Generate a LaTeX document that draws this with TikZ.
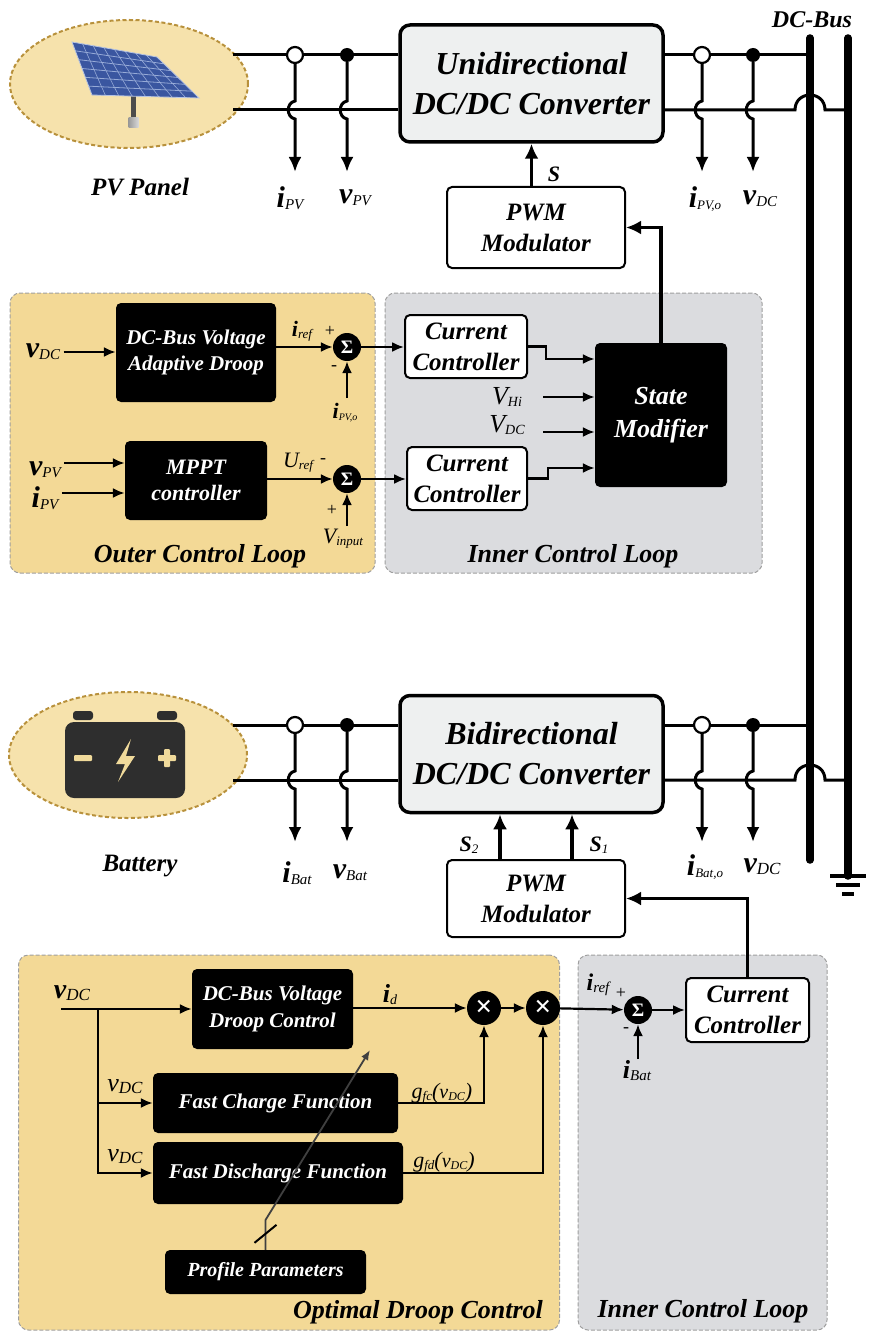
\documentclass[tikz,border=0pt]{standalone}
\usepackage{fontspec}
\setmainfont{Liberation Serif}
\usetikzlibrary{arrows.meta,shapes.geometric,calc}

\definecolor{tanfill}{RGB}{243,217,150}
\definecolor{grayfill}{RGB}{219,220,223}
\definecolor{ellfill}{RGB}{246,226,172}
\definecolor{elldash}{RGB}{184,145,60}
\definecolor{convfill}{RGB}{238,240,240}
\definecolor{panelblue}{RGB}{58,86,160}
\definecolor{panelgrid}{RGB}{150,170,215}
\definecolor{batdark}{RGB}{46,46,46}
\definecolor{battan}{RGB}{240,218,155}

\newcommand{\fsz}[2]{\fontsize{#1}{#2}\selectfont}
% bold italic variable with italic subscript
\newcommand{\vlab}[4]{{\fsz{#1}{#1}\bfseries\itshape #2}\raisebox{-2pt}{\fsz{#3}{#3}\itshape #4}}
% regular italic variable with italic subscript
\newcommand{\rlab}[4]{{\fsz{#1}{#1}\itshape #2}\raisebox{-2pt}{\fsz{#3}{#3}\itshape #4}}

\begin{document}
\begin{tikzpicture}[x=1pt,y=-1pt,
  loopbox/.style={draw=gray!75, dash pattern=on 4pt off 2pt, line width=1pt, rounded corners=10pt, inner sep=0pt},
  conv/.style={draw=black, fill=convfill, line width=3.5pt, rounded corners=10pt, align=center, inner sep=0pt,
    font=\bfseries\itshape\fsz{32}{40}},
  blk/.style={fill=black, text=white, rounded corners=5pt, align=center, inner sep=0pt, font=\bfseries\itshape},
  wbox/.style={draw=black, fill=white, line width=2pt, rounded corners=5pt, align=center, inner sep=0pt,
    font=\bfseries\itshape\fsz{25}{31}},
  sumnode/.style={circle, fill=black, text=white, minimum size=28pt, inner sep=0pt, font=\bfseries\fsz{19}{19}},
  mulnode/.style={circle, fill=black, text=white, minimum size=34pt, inner sep=0pt, font=\bfseries\fsz{30}{30}},
  cursens/.style={circle, draw=black, fill=white, line width=2.2pt, minimum size=16pt, inner sep=0pt},
  volsens/.style={circle, fill=black, minimum size=14pt, inner sep=0pt},
  wire/.style={line width=3pt},
  bus/.style={line width=7.5pt, line cap=round},
  arr/.style={line width=2.2pt, -{Latex[length=12pt,width=10pt]}},
  sensarr/.style={line width=3pt, -{Latex[length=15pt,width=13pt]}},
  thickarr/.style={line width=3.5pt, -{Latex[length=15pt,width=14pt]}},
  ttl/.style={font=\bfseries\itshape\fsz{26}{26}},
  sgn/.style={font=\fsz{18}{18}}
]
\useasboundingbox (0,0) rectangle (869,1332);

% ---------- control loop areas ----------
\node[loopbox, fill=tanfill, minimum width=365pt, minimum height=280pt] (outer) at (192.5,433) {};
\node[loopbox, fill=grayfill, minimum width=377pt, minimum height=280pt] (inner1) at (573.5,433) {};
\node[loopbox, fill=tanfill, minimum width=541pt, minimum height=375pt] (odc) at (289,1142.5) {};
\node[loopbox, fill=grayfill, minimum width=249pt, minimum height=375pt] (inner2) at (702.5,1142.5) {};

% ---------- sources ----------
\node[ellipse, draw=elldash, fill=ellfill, line width=2pt, dash pattern=on 4pt off 2.5pt,
  minimum width=238pt, minimum height=128pt] (pvell) at (129,84) {};
\node[ellipse, draw=elldash, fill=ellfill, line width=2pt, dash pattern=on 4pt off 2.5pt,
  minimum width=238pt, minimum height=126pt] (batell) at (128,755) {};

% solar panel on its pole
\coordinate (pA) at (72,42); \coordinate (pB) at (157,57);
\coordinate (pC) at (199,98); \coordinate (pD) at (92,95);
\fill[gray!60!black] (131,95) rectangle (136,120);
\shade[left color=gray!80, right color=gray!30] (128.5,118) rectangle (138.5,128);
\fill[panelblue] (pA) -- (pB) -- (pC) -- (pD) -- cycle;
\foreach \t in {1,...,5}
  \draw[panelgrid, line width=0.8pt] ($(pA)!{\t/6}!(pD)$) -- ($(pB)!{\t/6}!(pC)$);
\foreach \t in {1,...,7}
  \draw[panelgrid, line width=0.6pt] ($(pA)!{\t/8}!(pB)$) -- ($(pD)!{\t/8}!(pC)$);
\draw[panelgrid!70!white, line width=0.8pt] (pA) -- (pB) -- (pC) -- (pD) -- cycle;

% battery symbol
\fill[batdark, rounded corners=3pt] (73,711) rectangle (93,720);
\fill[batdark, rounded corners=3pt] (157,711) rectangle (177,720);
\fill[batdark, rounded corners=9pt] (65,722) rectangle (185,798);
\fill[battan, rounded corners=1pt] (74,755) rectangle (92,761);
\fill[battan, rounded corners=1pt] (158,755) rectangle (176,761);
\fill[battan, rounded corners=1pt] (164,749) rectangle (170,767);
\fill[battan] (131,739) -- (116,764) -- (125,764) -- (118,782) -- (135,756) -- (126,756) -- cycle;

\node[ttl, font=\bfseries\itshape\fsz{25}{25}] (pvlab) at (140,187) {PV Panel};
\node[ttl, font=\bfseries\itshape\fsz{25}{25}] (batlab) at (140,866) {Battery};

% ---------- converters ----------
\node[conv, minimum width=263pt, minimum height=117pt] (uconv) at (531.5,83.5) {Unidirectional\\DC/DC Converter};
\node[conv, minimum width=263pt, minimum height=117pt] (bconv) at (531.5,754) {Bidirectional\\DC/DC Converter};

% ---------- DC bus ----------
\coordinate (b1t) at (810,38); \coordinate (b1b) at (810,860);
\coordinate (b2t) at (848,38); \coordinate (b2b) at (848,876);
\node[font=\bfseries\itshape\fsz{24}{24}] (buslab) at (812,20) {DC-Bus};

% ---------- power wiring ----------
\coordinate (pvw1) at (233,55); \coordinate (pvw2) at (233,110);
\coordinate (btw1) at (233,725); \coordinate (btw2) at (233,780);
\draw[wire] (pvw1) -- (uconv.west |- pvw1);
\draw[wire] (pvw2) -- (uconv.west |- pvw2);
\draw[wire] (btw1) -- (bconv.west |- btw1);
\draw[wire] (btw2) -- (bconv.west |- btw2);
\draw[wire] (uconv.east |- pvw1) -- (b1t |- pvw1);
\draw[wire] (bconv.east |- btw1) -- (b1t |- btw1);
\draw[wire] (uconv.east |- pvw2) -- ($(b1t |- pvw2)+(-15,0)$)
  .. controls ($(b1t |- pvw2)+(-15,-20)$) and ($(b1t |- pvw2)+(15,-20)$) .. ($(b1t |- pvw2)+(15,0)$) -- (b2t |- pvw2);
\draw[wire] (bconv.east |- btw2) -- ($(b1t |- btw2)+(-15,0)$)
  .. controls ($(b1t |- btw2)+(-15,-20)$) and ($(b1t |- btw2)+(15,-20)$) .. ($(b1t |- btw2)+(15,0)$) -- (b2t |- btw2);
\draw[bus] (b1t) -- (b1b);
\draw[bus] (b2t) -- (b2b);
\draw[line width=4pt] ($(b2b)+(-18,0)$) -- ($(b2b)+(18,0)$);
\draw[line width=4pt] ($(b2b)+(-12,9)$) -- ($(b2b)+(12,9)$);
\draw[line width=4pt] ($(b2b)+(-6,18)$) -- ($(b2b)+(6,18)$);

% ---------- measurement points ----------
\node[cursens] (cs1) at (295,55) {};  \node[volsens] (vs1) at (347,55) {};
\node[cursens] (cs2) at (702,55) {};  \node[volsens] (vs2) at (753,55) {};
\node[cursens] (cs3) at (295,725) {}; \node[volsens] (vs3) at (347,725) {};
\node[cursens] (cs4) at (702,725) {}; \node[volsens] (vs4) at (753,725) {};

\coordinate (t1) at (295,172); \coordinate (t2) at (347,172);
\coordinate (t3) at (702,172); \coordinate (t4) at (753,172);
\coordinate (t5) at (295,842); \coordinate (t6) at (347,842);
\coordinate (t7) at (702,842); \coordinate (t8) at (753,842);
\foreach \s/\t in {cs1/t1,vs1/t2,cs2/t3,vs2/t4,cs3/t5,vs3/t6,cs4/t7,vs4/t8}
  \draw[sensarr] (\s.south) -- ($(\s.center)+(0,46)$)
    .. controls ($(\s.center)+(-9,48)$) and ($(\s.center)+(-9,62)$) .. ($(\s.center)+(0,64)$) -- (\t);

\node (lipv) at (290,198) {\vlab{30}{i}{15}{PV}};
\node (lvpv) at (355,198) {\vlab{30}{v}{15}{PV}};
\node (lipvo) at (705,199) {\vlab{30}{i}{13}{PV,o}};
\node (lvdco) at (760,199) {\vlab{30}{v}{15}{DC}};
\node (libat) at (297,873) {\vlab{30}{i}{15}{Bat}};
\node (lvbat) at (350,873) {\vlab{30}{v}{15}{Bat}};
\node (libato) at (705,867) {\vlab{30}{i}{13}{Bat,o}};
\node (lvdcb) at (762,867) {\vlab{30}{v}{17}{DC}};

% ---------- PV control ----------
\node[wbox, minimum width=178pt, minimum height=81pt] (pwm1) at (536,227.5) {PWM\\Modulator};
\draw[thickarr] (uconv.south |- pwm1.north) -- (uconv.south);
\node[font=\bfseries\itshape\fsz{22}{22}] (slab) at (554,174) {S};

\node[blk, minimum width=160pt, minimum height=99pt, font=\bfseries\itshape\fsz{21}{26}] (droop) at (196,352.5) {DC-Bus Voltage\\Adaptive Droop};
\node[blk, minimum width=142pt, minimum height=79pt, font=\bfseries\itshape\fsz{22}{26}] (mppt) at (196,480.5) {MPPT\\controller};
\node[sumnode] (sig1) at (347,347) {Σ};
\node[sumnode] (sig2) at (347,479) {Σ};
\node[wbox, minimum width=122pt, minimum height=63pt] (cc1) at (466,346.5) {Current\\Controller};
\node[wbox, minimum width=120pt, minimum height=63pt] (cc2) at (467,478.5) {Current\\Controller};
\node[blk, minimum width=132pt, minimum height=144pt, font=\bfseries\itshape\fsz{26}{33}] (sm) at (661,415) {State\\Modifier};

\node (lvdc1) at (43,352) {\vlab{30}{v}{15}{DC}};
\draw[arr] (lvdc1.east) -- (droop.west |- lvdc1.east);
\node (lvpv2) at (45,470) {\vlab{30}{v}{15}{PV}};
\node (lipv2) at (45,498) {\vlab{30}{i}{15}{PV}};
\coordinate (m1) at ([yshift=17.5pt]mppt.west);
\coordinate (m2) at ([yshift=-12.5pt]mppt.west);
\draw[arr] (lvpv2.east |- m1) -- (m1);
\draw[arr] (lipv2.east |- m2) -- (m2);

\draw[arr] (droop.east |- sig1) -- (sig1);
\node (liref1) at (302,331) {\vlab{22}{i}{13}{ref}};
\node[sgn] (p1) at (330,331) {+};
\node[sgn] (n1) at (334,368) {-};
\node (lipvo2) at (345,413) {\vlab{22}{i}{10}{PV,o}};
\coordinate (s1in) at (347,398);
\draw[arr] (s1in) -- (sig1.south);
\draw[arr] (sig1.east) -- (cc1.west |- sig1.east);

\draw[arr] (mppt.east |- sig2) -- (sig2);
\node (luref) at (298,463) {\rlab{22}{U}{13}{ref}};
\node[sgn] (n2) at (323,461) {-};
\node[sgn] (p2) at (332,510) {+};
\node (lvin) at (343,539) {\rlab{22}{V}{13}{input}};
\coordinate (s2in) at (347,526);
\draw[arr] (s2in) -- (sig2.south);
\draw[arr] (sig2.east) -- (cc2.west |- sig2.east);

\coordinate (sm1) at ([yshift=56pt]sm.west);
\coordinate (sm2) at ([yshift=18pt]sm.west);
\coordinate (sm3) at ([yshift=-17pt]sm.west);
\coordinate (sm4) at ([yshift=-53pt]sm.west);
\draw[arr] (cc1.east) -- ++(18,0) |- (sm1);
\draw[arr] (cc2.east) -- ++(20,0) |- (sm4);
\coordinate (vhiin) at (543,397);
\coordinate (vdcin) at (543,432);
\draw[arr] (vhiin) -- (sm2);
\draw[arr] (vdcin) -- (sm3);
\node (lvhi) at (507,397) {\rlab{26}{V}{14}{Hi}};
\node (lvdc2) at (507,425) {\rlab{26}{V}{14}{DC}};
\draw[thickarr] (sm.north) |- (pwm1.east);

\node[ttl] (olab) at (200,556) {Outer Control Loop};
\node[ttl] (ilab1) at (573,556) {Inner Control Loop};

% ---------- battery control ----------
\node[wbox, minimum width=178pt, minimum height=77pt] (pwm2) at (536,898.5) {PWM\\Modulator};
\coordinate (s2b) at ([xshift=-36pt]pwm2.north);
\coordinate (s1b) at ([xshift=36pt]pwm2.north);
\draw[thickarr] (s2b) -- (bconv.south -| s2b);
\draw[thickarr] (s1b) -- (bconv.south -| s1b);
\node (ls2) at (469,845) {\vlab{22}{S}{13}{2}};
\node (ls1) at (599,845) {\vlab{22}{S}{13}{1}};

\node[wbox, minimum width=123pt, minimum height=64pt] (cc3) at (747.5,1010) {Current\\Controller};
\draw[thickarr] (cc3.north) |- (pwm2.east);
\node[sumnode] (sig3) at (638,1010) {Σ};
\draw[arr] (sig3.east) -- (cc3.west |- sig3.east);
\node (liref2) at (598,985) {\vlab{24}{i}{15}{ref}};
\node[sgn] (p3) at (621,993) {+};
\node[sgn] (n3) at (626,1030) {-};
\node (libat2) at (637,1071) {\vlab{26}{i}{15}{Bat}};
\coordinate (s3in) at (638,1059);
\draw[arr] (s3in) -- (sig3.south);

\node[blk, minimum width=161pt, minimum height=80pt, font=\bfseries\itshape\fsz{21}{27}] (dbox) at (272.5,1009) {DC-Bus Voltage\\Droop Control};
\node[blk, minimum width=245pt, minimum height=60pt, font=\bfseries\itshape\fsz{21}{21}] (fc) at (275.5,1103) {Fast Charge Function};
\node[blk, minimum width=250pt, minimum height=62pt, font=\bfseries\itshape\fsz{21}{21}] (fd) at (278,1173) {Fast Discharge Function};
\node[blk, minimum width=201pt, minimum height=44pt, font=\bfseries\itshape\fsz{20}{20}] (pp) at (265.5,1272) {Profile Parameters};
\node[mulnode] (mul1) at (484,1008) {×};
\node[mulnode] (mul2) at (543,1008) {×};

\node (lvdc3) at (72,993) {\vlab{28}{v}{17}{DC}};
\coordinate (vin) at (61,1009);
\coordinate (br) at (98,1009);
\draw[arr] (vin) -- (dbox.west |- vin);
\draw[arr] (br) |- (fc.west);
\draw[arr] (br) |- (fd.west);
\node (lvdc4) at (125,1087) {\rlab{26}{v}{17}{DC}};
\node (lvdc5) at (125,1157) {\rlab{26}{v}{17}{DC}};

\draw[arr] (dbox.east |- mul1) -- (mul1);
\draw[arr] (mul1) -- (mul2);
\draw[arr] (mul2) -- (sig3);
\draw[arr] (fc.east) -| (mul1.south);
\draw[arr] (fd.east) -| (mul2.south);
\node (lid) at (390,995) {\vlab{26}{i}{14}{d}};
\node (lgfc) at (442,1093) {\rlab{22}{g}{13}{fc}{\fsz{22}{22}\itshape(}\rlab{20}{v}{12}{DC}{\fsz{22}{22}\itshape)}};
\node (lgfd) at (444,1162) {\rlab{22}{g}{13}{fd}{\fsz{22}{22}\itshape(}\rlab{20}{v}{12}{DC}{\fsz{22}{22}\itshape)}};

% tuning link from the profile parameters, crossing the function blocks
\coordinate (ppk) at (265.5,1220);
\coordinate (ppend) at (370,1050);
\draw[black!75, line width=1.8pt, -{Latex[length=10pt,width=8pt]}] (pp.north) -- (ppk) -- (ppend);
\draw[line width=2pt] ($(pp.north)+(-11,-7)$) -- ($(pp.north)+(11,-25)$);

\node[ttl] (odclab) at (418,1312) {Optimal Droop Control};
\node[ttl] (ilab2) at (703,1311) {Inner Control Loop};
\end{tikzpicture}
\end{document}
